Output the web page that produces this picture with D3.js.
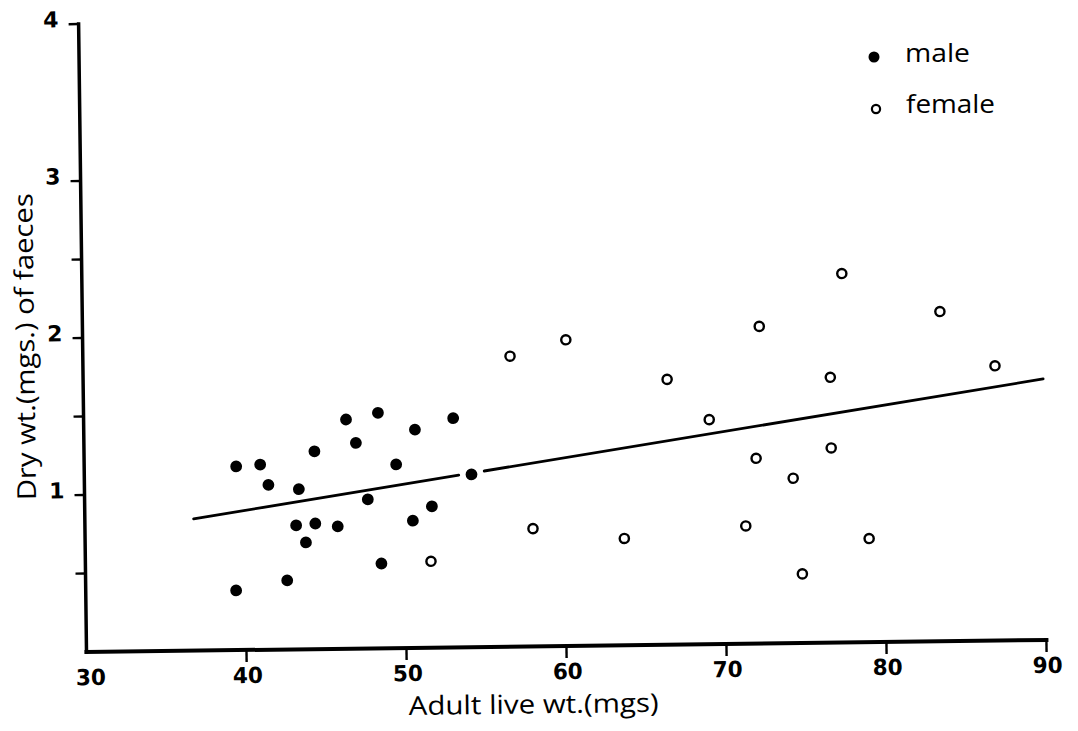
<!DOCTYPE html>
<html>
<head>
<meta charset="utf-8">
<script src="https://cdn.jsdelivr.net/npm/d3@7/dist/d3.min.js"></script>
<style>
  html, body { margin: 0; padding: 0; background: #fff; }
  svg { display: block; }
  .tick-label { font-family: "DejaVu Sans", sans-serif; font-weight: bold; font-size: 22px; }
  .title { font-family: "Open Sans", Lato, sans-serif; font-weight: 400; font-size: 26px; }
  .legend-text { font-family: "Open Sans", Lato, sans-serif; font-weight: 400; font-size: 26px; }
</style>
</head>
<body>
<svg id="chart" width="1078" height="731"></svg>
<script>
// ---- data ----
const maleX = [39.5, 41.0, 41.5, 43.4, 44.4, 46.4, 48.4, 50.7, 53.1, 47.0, 49.5, 54.2, 47.7, 51.7, 43.2, 44.4, 45.8, 50.5, 43.8, 48.5, 42.6, 39.4];
const maleY = [1.17, 1.18, 1.05, 1.02, 1.26, 1.46, 1.50, 1.39, 1.46, 1.31, 1.17, 1.10, 0.95, 0.90, 0.79, 0.80, 0.78, 0.81, 0.68, 0.54, 0.44, 0.38];
const femaleX = [51.6, 56.7, 60.2, 58.0, 63.7, 66.5, 69.1, 71.3, 72.0, 72.3, 74.3, 74.8, 76.7, 76.7, 77.5, 79.0, 83.6, 87.0];
const femaleY = [0.55, 1.85, 1.95, 0.75, 0.68, 1.69, 1.43, 0.75, 1.18, 2.02, 1.05, 0.44, 1.69, 1.24, 2.35, 0.66, 2.10, 1.75];
// fitted line y = a + b x, drawn in two pieces (break around one point)
const lineIntercept = 0.2695;
const lineSlope = 0.01548;
const lineStarts = [36.8, 55.0];
const lineEnds = [53.4, 90.0];
const xTicks = [40, 50, 60, 70, 80, 90];
const xTickLabels = ["30", "40", "50", "60", "70", "80", "90"];
const xLabelValues = [30, 40, 50, 60, 70, 80, 90];
const yTicks = [0.5, 1, 1.5, 2, 2.5, 3, 4];
const yLabelValues = [1, 2, 3, 4];
const yTickLabels = ["1", "2", "3", "4"];
const legendLabels = ["male", "female"];

// ---- drawing ----
const svg = d3.select("#chart");
const x = d3.scaleLinear().domain([30, 90]).range([86.5, 1046.5]);
const y = d3.scaleLinear().domain([0, 4]).range([652, 24]);

const g = svg.append("g")
  .attr("transform", `rotate(-0.72, ${x(30)}, ${y(0)})`);

// axes lines
g.append("line")
  .attr("x1", x(30)).attr("x2", x(90))
  .attr("y1", y(0)).attr("y2", y(0))
  .attr("stroke", "#000").attr("stroke-width", 4).attr("stroke-linecap", "square");
g.append("line")
  .attr("x1", x(30)).attr("x2", x(30))
  .attr("y1", y(0)).attr("y2", y(4))
  .attr("stroke", "#000").attr("stroke-width", 3.5).attr("stroke-linecap", "square");

// x ticks
g.selectAll(".xt").data(xTicks).enter().append("line")
  .attr("x1", d => x(d)).attr("x2", d => x(d))
  .attr("y1", y(0)).attr("y2", y(0) + 12)
  .attr("stroke", "#000").attr("stroke-width", 2.4);
g.selectAll(".xl").data(xLabelValues).enter().append("text")
  .attr("class", "tick-label")
  .attr("x", (d) => x(d) + (d === 30 ? 4 : 1))
  .attr("y", y(0) + 33)
  .attr("text-anchor", "middle")
  .attr("textLength", 30)
  .attr("lengthAdjust", "spacingAndGlyphs")
  .text((d, i) => xTickLabels[i]);

// y ticks
g.selectAll(".yt").data(yTicks).enter().append("line")
  .attr("x1", x(30) - 10).attr("x2", x(30))
  .attr("y1", d => y(d)).attr("y2", d => y(d))
  .attr("stroke", "#000").attr("stroke-width", 2.4);
g.selectAll(".yl").data(yLabelValues).enter().append("text")
  .attr("class", "tick-label")
  .attr("x", x(30) - 20)
  .attr("y", d => y(d) + 3)
  .attr("text-anchor", "end")
  .text((d, i) => yTickLabels[i]);

// axis titles
g.append("text")
  .attr("class", "title")
  .attr("x", 533).attr("y", 719)
  .attr("text-anchor", "middle")
  .attr("textLength", 250)
  .attr("lengthAdjust", "spacingAndGlyphs")
  .text("Adult live wt.(mgs)");
g.append("text")
  .attr("class", "title")
  .attr("transform", "translate(38,346) rotate(-90)")
  .attr("text-anchor", "middle")
  .attr("textLength", 307)
  .attr("lengthAdjust", "spacingAndGlyphs")
  .text("Dry wt.(mgs.) of faeces");

// fitted line
const segs = lineStarts.map((s, i) => [s, lineEnds[i]]);
g.selectAll(".fit").data(segs).enter().append("line")
  .attr("x1", d => x(d[0])).attr("y1", d => y(lineIntercept + lineSlope * d[0]))
  .attr("x2", d => x(d[1])).attr("y2", d => y(lineIntercept + lineSlope * d[1]))
  .attr("stroke", "#000").attr("stroke-width", 2.8).attr("stroke-linecap", "round");

// points
const males = maleX.map((v, i) => [v, maleY[i]]);
const females = femaleX.map((v, i) => [v, femaleY[i]]);
g.selectAll(".m").data(males).enter().append("circle")
  .attr("cx", d => x(d[0])).attr("cy", d => y(d[1]))
  .attr("r", 5.9).attr("fill", "#000");
g.selectAll(".f").data(females).enter().append("circle")
  .attr("cx", d => x(d[0])).attr("cy", d => y(d[1]))
  .attr("r", 4.6).attr("fill", "#fff").attr("stroke", "#000").attr("stroke-width", 2.4);

// legend
const lg = svg.append("g");
lg.append("circle").attr("cx", 874).attr("cy", 57).attr("r", 5.5).attr("fill", "#000");
lg.append("circle").attr("cx", 876).attr("cy", 109).attr("r", 4.1)
  .attr("fill", "#fff").attr("stroke", "#000").attr("stroke-width", 2.2);
lg.append("text").attr("class", "legend-text").attr("x", 905).attr("y", 62)
  .attr("textLength", 65).attr("lengthAdjust", "spacingAndGlyphs")
  .text(legendLabels[0]);
lg.append("text").attr("class", "legend-text").attr("x", 906).attr("y", 113)
  .attr("textLength", 89).attr("lengthAdjust", "spacingAndGlyphs")
  .text(legendLabels[1]);
</script>
</body>
</html>
